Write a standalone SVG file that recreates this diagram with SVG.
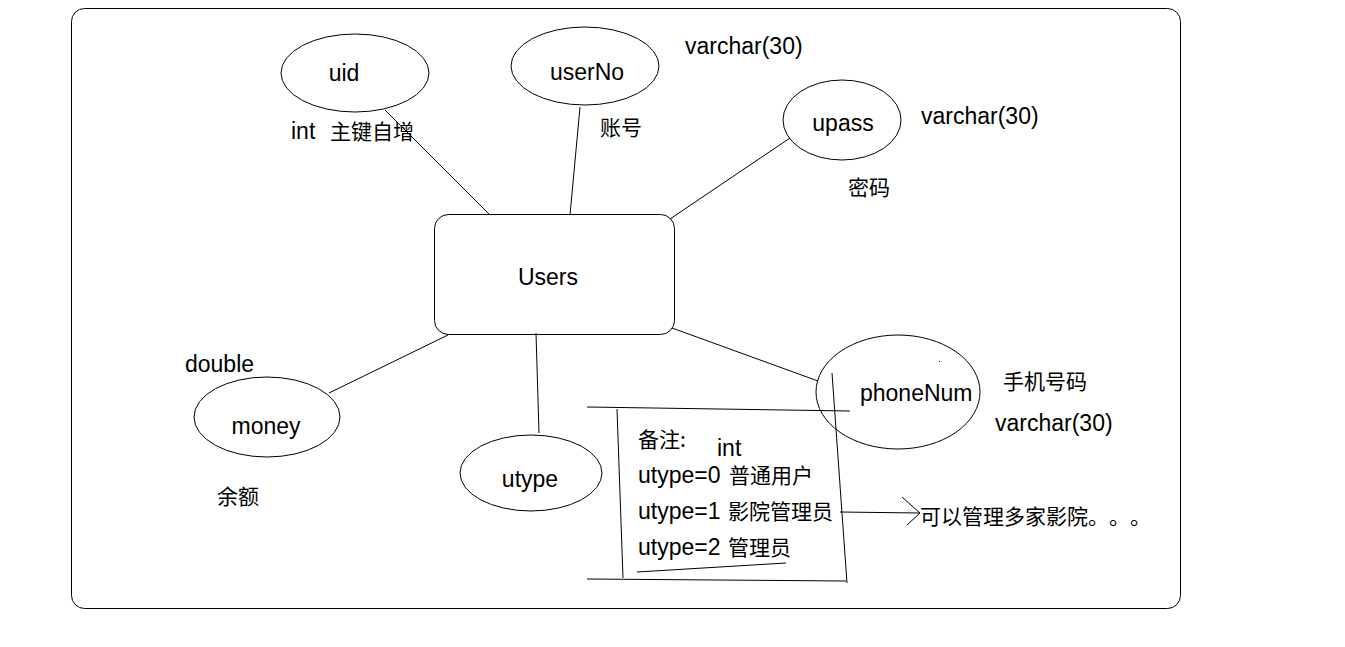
<svg xmlns="http://www.w3.org/2000/svg" width="1345" height="647" viewBox="0 0 1345 647">
<style>
.s{fill:none;stroke:#000;stroke-width:1}
.t{font-family:"Liberation Sans","Noto Sans CJK SC",sans-serif;font-size:23px;fill:#000}
.c{font-family:"Noto Sans CJK SC",sans-serif;font-size:21px;fill:#000}
.m{text-anchor:middle}
</style>
<rect width="1345" height="647" fill="#fff"/>
<rect id="frame" class="s" x="71.5" y="8.5" width="1109" height="600" rx="13"/>
<g id="connectors">
<line class="s" x1="385" y1="110" x2="490" y2="215"/>
<line class="s" x1="580" y1="107" x2="570" y2="215"/>
<line class="s" x1="790" y1="138" x2="670" y2="219"/>
<line class="s" x1="672" y1="328" x2="818" y2="381"/>
<line class="s" x1="448" y1="335" x2="329" y2="393"/>
<line class="s" x1="536" y1="333" x2="539" y2="433"/>
<line class="s" x1="840" y1="512" x2="920" y2="513"/>
<polyline class="s" points="902,497 920,513 907,525"/>
</g>
<g id="users">
<rect class="s" x="434.5" y="214.5" width="240" height="120" rx="14"/>
<text class="t m" x="548" y="285">Users</text>
</g>
<g id="uid">
<ellipse class="s" cx="355" cy="73" rx="74" ry="39"/>
<text class="t m" x="344" y="81">uid</text>
<text class="t" x="291" y="139">int<tspan class="c" x="330">主键自增</tspan></text>
</g>
<g id="userNo">
<ellipse class="s" cx="585" cy="66" rx="74" ry="39"/>
<text class="t m" x="587" y="80">userNo</text>
<text class="t" x="685" y="54">varchar(30)</text>
<text class="c" x="600" y="135">账号</text>
</g>
<g id="upass">
<ellipse class="s" cx="842" cy="120" rx="59" ry="40"/>
<text class="t m" x="843" y="131">upass</text>
<text class="t" x="921" y="124">varchar(30)</text>
<text class="c" x="848" y="195">密码</text>
</g>
<g id="phoneNum">
<ellipse class="s" cx="898" cy="392" rx="82" ry="57"/>
<rect x="939" y="361" width="1" height="1" fill="#000"/>
<text class="t" x="860" y="401">phoneNum</text>
<text class="c" x="1003" y="389">手机号码</text>
<text class="t" x="995" y="431">varchar(30)</text>
</g>
<g id="money">
<ellipse class="s" cx="267" cy="417" rx="73" ry="40"/>
<text class="t m" x="266" y="434">money</text>
<text class="t" x="185" y="372">double</text>
<text class="c" x="217" y="504">余额</text>
</g>
<g id="utype">
<ellipse class="s" cx="531" cy="473" rx="71" ry="38"/>
<text class="t m" x="530" y="487">utype</text>
</g>
<g id="note">
<line class="s" x1="587" y1="407" x2="850" y2="411"/>
<line class="s" x1="617" y1="409" x2="623" y2="578"/>
<line class="s" x1="587" y1="579" x2="846" y2="581"/>
<line class="s" x1="832" y1="373" x2="847" y2="583"/>
<line class="s" x1="637" y1="572" x2="786" y2="563"/>
<text class="c" x="638" y="447">备注:</text>
<text class="t" x="717" y="456">int</text>
<text class="t" x="638" y="483">utype=0<tspan class="c" x="729">普通用户</tspan></text>
<text class="t" x="638" y="519">utype=1<tspan class="c" x="728">影院管理员</tspan></text>
<text class="t" x="638" y="555">utype=2<tspan class="c" x="728">管理员</tspan></text>
<text class="c" x="920" y="524">可以管理多家影院</text>
<text class="c" x="1088" y="524">。</text>
<text class="c" x="1109" y="524">。</text>
<text class="c" x="1130" y="524">。</text>
</g>
</svg>
